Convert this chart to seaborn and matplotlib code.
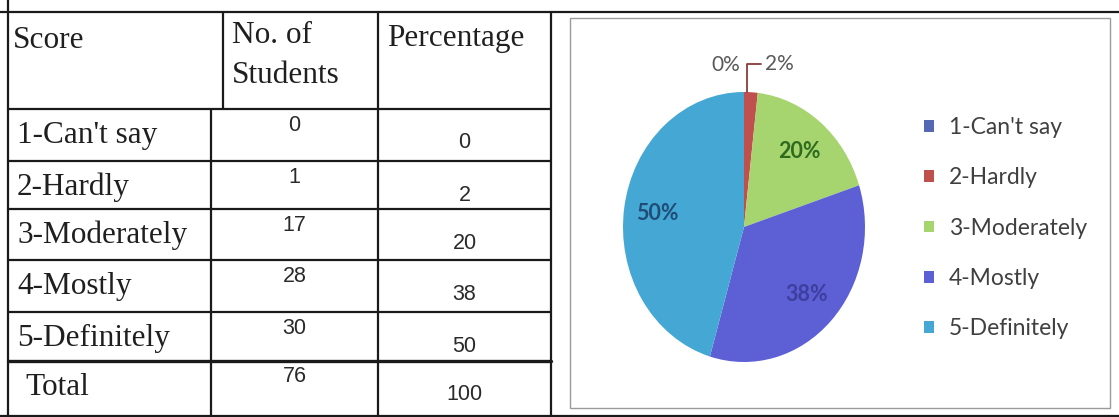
import seaborn as sns
import matplotlib.pyplot as plt
import numpy as np

# -----------------------------
# Data read off the scanned table / pie
# -----------------------------
scores = ["1-Can't say", "2-Hardly", "3-Moderately", "4-Mostly", "5-Definitely"]
students = [0, 1, 17, 28, 30]
percentages = [0, 2, 20, 38, 50]
total_label = "Total"
total_students = 76
total_percentage = 100
headers = ["Score", "No. of\nStudents", "Percentage"]

slice_colors = ["#5468B4", "#C0504D", "#A6D46E", "#5D60D4", "#45A8D4"]
label_colors = ["#595959", "#595959", "#2F6B1E", "#3E3EA0", "#1E4D78"]

# -----------------------------
# Figure setup
# -----------------------------
sns.set_theme(style="white")
plt.rcParams["font.family"] = ["Liberation Serif", "DejaVu Serif"]

W, H = 1119, 417
fig = plt.figure(figsize=(W / 100, H / 100), dpi=100)
fig.patch.set_facecolor("white")

tab = fig.add_axes([0, 0, 1, 1])
tab.set_xlim(0, W)
tab.set_ylim(H, 0)
tab.axis("off")

# table layout (pixels)
top_y = 12
head_bottom = 109
row_lines = [109, 161, 209, 260, 312, 361]
left_x, col1_head, col1, col2, col3 = 8, 223, 211, 378, 551
line_kw = dict(color="#1a1a1a", lw=1.6, solid_capstyle="butt")

tab.plot([0, W], [top_y, top_y], **line_kw)
tab.plot([left_x, left_x], [0, H], **line_kw)
tab.plot([col3, col3], [top_y, H], **line_kw)
tab.plot([col2, col2], [top_y, H], **line_kw)
tab.plot([col1_head, col1_head], [top_y, head_bottom], **line_kw)
tab.plot([col1, col1], [head_bottom, H], **line_kw)
for i, y in enumerate(row_lines):
    lw = 2.4 if i == len(row_lines) - 1 else 1.6
    tab.plot([left_x, col3], [y, y], color="#1a1a1a", lw=lw)
tab.plot([0, W], [H - 1.5, H - 1.5], **line_kw)

# header text
serif_kw = dict(fontsize=22.5, color="#1f1f1f", family=["Liberation Serif"])
tab.text(13, 48, headers[0], va="baseline", ha="left", **serif_kw)
for k, part in enumerate(headers[1].split("\n")):
    tab.text(232, 43 + 40 * k, part, va="baseline", ha="left", **serif_kw)
tab.text(387, 46, headers[2], va="baseline", ha="left", **serif_kw)

# body rows
num_kw = dict(fontsize=15.5, color="#2a2a2a", family=["Liberation Sans"], ha="center", va="center")
labels_all = scores + [total_label]
counts_all = students + [total_students]
pct_all = percentages + [total_percentage]
for i, (lab, c, p) in enumerate(zip(labels_all, counts_all, pct_all)):
    top = row_lines[i]
    lx = 25 if lab == total_label else 17
    tab.text(lx, top + 34, lab, va="baseline", ha="left", **serif_kw)
    tab.text((col1 + col2) / 2, top + 16, str(c), **num_kw)
    tab.text((col2 + col3) / 2, top + 34, str(p), **num_kw)

# chart frame
box = plt.Rectangle((570, 18), 1110 - 570, 408 - 18, fill=False, ec="#9a9a9a", lw=1.0)
tab.add_patch(box)

# -----------------------------
# Pie chart
# -----------------------------
cx, cy, rx, ry = 744, 227, 121, 135
pie_ax = fig.add_axes([(cx - 1.25 * rx) / W, (H - cy - 1.25 * ry) / H,
                       2.5 * rx / W, 2.5 * ry / H])
wedges, _ = pie_ax.pie(percentages, colors=slice_colors, startangle=90,
                       counterclock=False, wedgeprops=dict(linewidth=0))
pie_ax.set_aspect("auto")
pie_ax.set_xlim(-1.25, 1.25)
pie_ax.set_ylim(-1.25, 1.25)

font_pie = ["Lato", "DejaVu Sans"]
for w, v, col in zip(wedges, percentages, label_colors):
    ang = np.deg2rad((w.theta1 + w.theta2) / 2)
    x, y = np.cos(ang), np.sin(ang)
    if v >= 5:
        pie_ax.text(0.72 * x, 0.72 * y, f"{v}%", ha="center", va="center", color=col,
                    family=font_pie, fontsize=15.5, fontweight="bold")
    elif v == 0:
        pie_ax.text(x - 0.03, 1.2, f"{v}%", ha="right", va="center", color=col,
                    family=font_pie, fontsize=15)
    else:
        pie_ax.annotate(f"{v}%", xy=(0.45 * x, y), xytext=(x + 0.12, 1.21),
                        ha="left", va="center", color=col,
                        family=font_pie, fontsize=15,
                        arrowprops=dict(arrowstyle="-", color="#8a3a3a", lw=1.3,
                                        shrinkA=1, shrinkB=0,
                                        connectionstyle="angle,angleA=0,angleB=90,rad=0"))

leg = fig.legend(wedges, scores, loc="upper left", bbox_to_anchor=(924 / W, 1 - 117 / H),
                 frameon=False, borderpad=0, borderaxespad=0,
                 handlelength=0.42, handleheight=0.42, handletextpad=0.65,
                 labelspacing=1.28, prop=dict(family="Lato", size=16.5))
for t in leg.get_texts():
    t.set_color("#404040")

plt.savefig("out.png", dpi=100)
plt.close()
